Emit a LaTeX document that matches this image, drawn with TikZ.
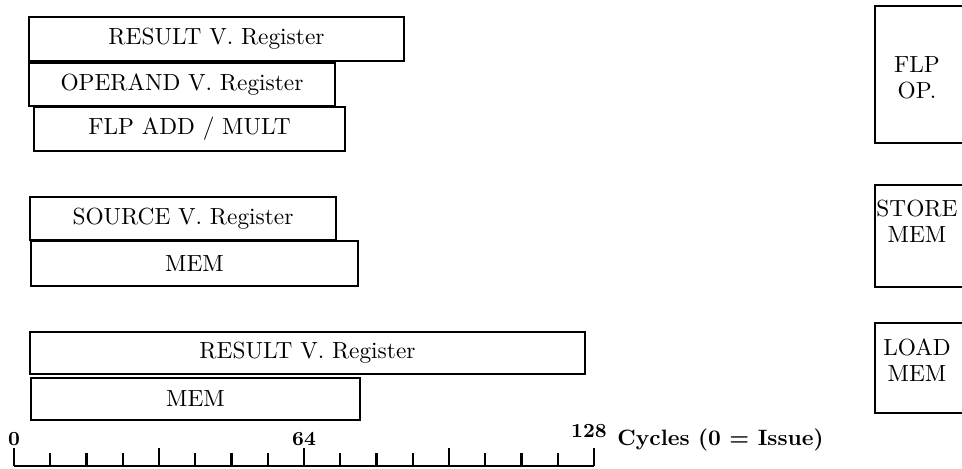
\documentclass[tikz,border=0pt]{standalone}
\usetikzlibrary{fit}
\begin{document}
\begin{tikzpicture}[x=0.45pt,y=-0.45pt,
  box/.style={draw=black,line width=1.3pt,inner sep=0pt,rectangle,
    font=\fontsize{10.5}{12}\selectfont},
  unit/.style={draw=black,line width=1.3pt,inner sep=0pt,rectangle},
  utext/.style={align=center,inner sep=0pt,font=\fontsize{10.5}{9.6}\selectfont},
  tick/.style={line width=1.1pt},
  axlab/.style={font=\small\bfseries,inner sep=0pt}]
\useasboundingbox (0,0) rectangle (962,469);
\clip (0,0) rectangle (962,469);
% FLP OP group
\node[box,minimum width=168.75pt,minimum height=19.8pt] (fres) at (216.5,39) {RESULT V. Register};
\node[box,minimum width=137.7pt,minimum height=19.35pt] (fop) at (182,84.5) {OPERAND V. Register};
\node[box,minimum width=139.95pt,minimum height=19.8pt] (fadd) at (189.5,129) {FLP ADD / MULT};
% STORE group
\node[box,minimum width=137.7pt,minimum height=19.35pt] (ssrc) at (183,218.5) {SOURCE V. Register};
\node[box,minimum width=147.15pt,minimum height=20.25pt] (smem) at (194.5,263.5) {MEM};
% LOAD group
\node[box,minimum width=249.75pt,minimum height=18.9pt] (lres) at (307.5,353) {RESULT V. Register};
\node[box,minimum width=148.05pt,minimum height=18.9pt] (lmem) at (195.5,399) {MEM};
% right-hand labels
\node[unit,fit={(875,6) (1000,143)}] (uflp) {};
\node[utext] (tflp) at (917,78) {FLP\\[2pt]OP.};
\node[unit,fit={(875,185) (1000,287)}] (ustore) {};
\node[utext] (tstore) at (917,221) {STORE\\[2pt]MEM};
\node[unit,fit={(875,323) (1000,413)}] (uload) {};
\node[utext] (tload) at (917,360) {LOAD\\[2pt]MEM};
% axis
\coordinate (a0) at (14,466);
\coordinate (a128) at (594,466);
\draw[tick] (a0) -- (a128);
\foreach \i in {0,...,16}{
  \pgfmathsetmacro{\xx}{14+\i*36.25}
  \pgfmathtruncatemacro{\mm}{mod(\i,4)}
  \ifnum\mm=0
    \draw[tick] (\xx,466) -- (\xx,448);
  \else
    \draw[tick] (\xx,466) -- (\xx,453);
  \fi
}
\node[axlab] (l0) at (14,439) {0};
\node[axlab] (l64) at (304,439) {64};
\node[axlab] (l128) at (589,431) {128};
\node[font=\normalsize\bfseries,anchor=west,inner sep=0pt] (cyc) at (617,440) {Cycles (0 = Issue)};
\end{tikzpicture}
\end{document}
